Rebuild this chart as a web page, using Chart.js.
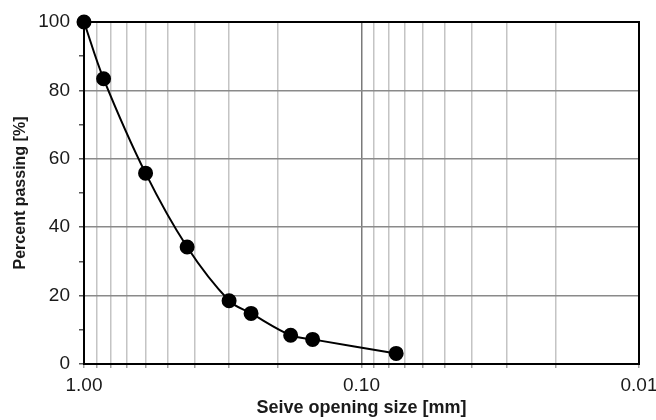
<!DOCTYPE html>
<html>
<head>
<meta charset="utf-8">
<title>Grain size distribution</title>
<script src="https://cdn.jsdelivr.net/npm/chart.js@4"></script>
<style>
  html, body { margin: 0; padding: 0; background: #fff; }
  canvas { display: block; }
</style>
</head>
<body>
<canvas id="gradationChart" width="656" height="420"></canvas>
<script>
// Sieve analysis results
const sieveSizes = [1.0, 0.85, 0.6, 0.425, 0.3, 0.25, 0.18, 0.15, 0.075];
const percentPassing = [100, 83.4, 55.8, 34.2, 18.5, 14.8, 8.4, 7.2, 3.1];

// Axis ticks (log grid for x, every 5% for y with labels every 20%)
const xTicks = [1, 0.9, 0.8, 0.7, 0.6, 0.5, 0.4, 0.3, 0.2,
                0.1, 0.09, 0.08, 0.07, 0.06, 0.05, 0.04, 0.03, 0.02, 0.01];
const xLabels = [1, 0.1, 0.01];
const yTicks = [0, 5, 10, 15, 20, 25, 30, 35, 40, 45, 50, 55, 60, 65, 70, 75, 80, 85, 90, 95, 100];
const yLabels = [0, 20, 40, 60, 80, 100];

const isLabelled = (list, v) => list.some(l => Math.abs(l - v) < 1e-9);

// full black frame around the plot area
const frameBox = {
  id: "frameBox",
  afterDraw(chart) {
    const { ctx, chartArea: a } = chart;
    ctx.save();
    ctx.strokeStyle = "#000";
    ctx.lineWidth = 2;
    ctx.strokeRect(a.left, a.top, a.right - a.left, a.bottom - a.top);
    ctx.restore();
  }
};

Chart.defaults.font.family = "'Liberation Sans', Arial, sans-serif";
Chart.defaults.color = "#1a1a1a";

const ctx = document.getElementById("gradationChart").getContext("2d");

new Chart(ctx, {
  type: "scatter",
  data: {
    datasets: [{
      data: sieveSizes.map((s, i) => ({ x: s, y: percentPassing[i] })),
      showLine: true,
      tension: 0.35,
      borderColor: "#000",
      borderWidth: 2,
      backgroundColor: "#000",
      pointRadius: 6.5,
      pointHoverRadius: 6.5,
      clip: false
    }]
  },
  options: {
    responsive: false,
    devicePixelRatio: 1,
    animation: false,
    layout: { padding: { top: 22, right: 17, left: 0, bottom: 0 } },
    plugins: { legend: { display: false }, tooltip: { enabled: false } },
    scales: {
      x: {
        type: "logarithmic",
        reverse: true,
        min: 0.01,
        max: 1,
        afterBuildTicks: scale => { scale.ticks = xTicks.map(v => ({ value: v })); },
        afterFit: scale => {
          scale.height = 56;
          scale.paddingLeft = 0;
          scale.paddingRight = 0;
        },
        ticks: {
          autoSkip: false,
          maxRotation: 0,
          padding: 6,
          font: { size: 19 },
          callback: v => isLabelled(xLabels, v) ? v.toFixed(2) : ""
        },
        grid: {
          color: c => isLabelled(xLabels, c.tick.value) ? "#7a7a7a" : "#c4c4c4",
          lineWidth: 1.5,
          tickLength: 4,
          tickColor: "#a0a0a0"
        },
        border: { color: "#000", width: 2 },
        title: {
          display: true,
          text: "Seive opening size [mm]",
          font: { size: 18, weight: "bold" },
          padding: { top: 0, bottom: 1 }
        }
      },
      y: {
        min: 0,
        max: 100,
        afterBuildTicks: scale => { scale.ticks = yTicks.map(v => ({ value: v })); },
        afterFit: scale => {
          scale.width = 84;
          scale.paddingTop = 0;
          scale.paddingBottom = 0;
        },
        ticks: {
          padding: 9,
          font: { size: 19 },
          callback: v => isLabelled(yLabels, v) ? v : ""
        },
        grid: {
          color: c => isLabelled(yLabels, c.tick.value) ? "#8a8a8a" : "rgba(0,0,0,0)",
          lineWidth: 1.5,
          tickLength: 5,
          tickColor: "#555"
        },
        border: { color: "#000", width: 2 },
        title: {
          display: true,
          text: "Percent passing [%]",
          font: { size: 16, weight: "bold" },
          padding: { top: 11, bottom: 0 }
        }
      }
    }
  },
  plugins: [frameBox]
});
</script>
</body>
</html>
